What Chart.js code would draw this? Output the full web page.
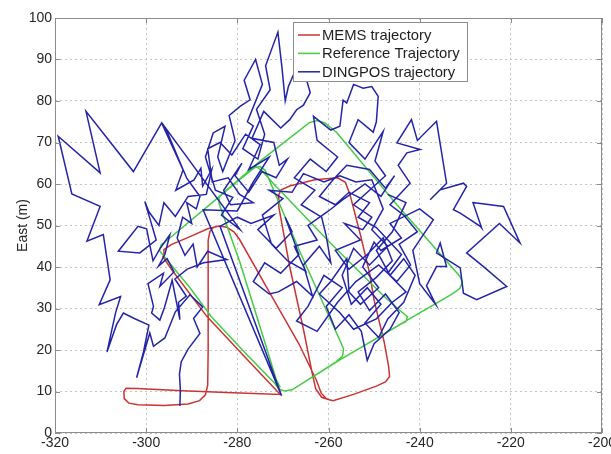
<!DOCTYPE html>
<html>
<head>
<meta charset="utf-8">
<script src="https://cdn.jsdelivr.net/npm/chart.js@4.4.1/dist/chart.umd.min.js"></script>
<style>
  html, body { margin: 0; padding: 0; background: #ffffff; }
  #wrap { width: 611px; height: 454px; }
</style>
</head>
<body>
<div id="wrap"><canvas id="chart" width="611" height="454"></canvas></div>
<script>
// Axis ticks
const xTicks = [-320, -300, -280, -260, -240, -220, -200];
const yTicks = [0, 10, 20, 30, 40, 50, 60, 70, 80, 90, 100];

// Series names
const seriesNames = ['MEMS trajectory', 'Reference Trajectory', 'DINGPOS trajectory'];

// MEMS track [x (m), east (m)]
const memsTrack = [
  [-284.0, 49.9], [-285.2, 49.6], [-286.0, 48.6], [-286.4, 46.5], [-286.4, 35.0], [-286.4, 20.0],
  [-286.5, 11.5], [-287.0, 9.2], [-288.3, 7.8], [-290.8, 7.0], [-296.0, 6.6], [-301.8, 6.8],
  [-303.8, 7.2], [-304.8, 8.3], [-304.9, 10.0], [-304.4, 10.8], [-302.0, 10.7], [-292.0, 10.2],
  [-281.0, 9.7], [-270.5, 9.3],
  [-271.2, 10.0], [-278.5, 18.5], [-286.7, 28.1], [-294.5, 39.5], [-296.3, 42.4], [-296.1, 44.2],
  [-294.5, 45.4], [-290.0, 47.5], [-286.5, 49.2], [-284.0, 49.9],
  [-282.3, 49.6], [-280.7, 48.4], [-279.6, 46.8], [-273.0, 34.0], [-266.5, 21.5], [-262.6, 12.6],
  [-261.6, 9.6], [-260.4, 8.2], [-259.0, 7.8],
  [-254.5, 9.3], [-249.5, 11.3], [-247.5, 12.3], [-246.6, 13.6], [-246.8, 16.0], [-247.8, 22.0],
  [-250.0, 32.0], [-251.0, 38.6], [-253.1, 48.2], [-255.3, 57.5], [-256.3, 60.4], [-258.0, 61.5],
  [-263.0, 61.0], [-268.5, 59.5], [-270.4, 58.6], [-271.0, 57.2], [-270.9, 54.5], [-268.5, 40.0],
  [-265.5, 25.0], [-263.5, 14.0], [-262.8, 10.6], [-261.5, 8.6], [-259.8, 8.0]
];

// Reference track [x (m), east (m)]
const referenceTrack = [
  [-271.8, 12.0], [-270.9, 10.6], [-269.6, 10.1], [-268.0, 10.4], [-257.5, 17.6], [-243.0, 27.0],
  [-233.0, 33.4], [-231.2, 34.8], [-230.6, 36.3], [-231.2, 37.8], [-245.0, 55.0], [-258.2, 72.4],
  [-260.8, 74.7], [-262.5, 75.3], [-264.2, 74.8], [-275.0, 65.5], [-285.0, 56.0], [-295.0, 46.8],
  [-296.7, 45.4], [-297.1, 44.0], [-296.4, 43.0], [-290.4, 35.0], [-285.7, 28.0], [-278.0, 19.0],
  [-271.8, 12.0], [-270.9, 10.6], [-269.6, 10.1], [-268.0, 10.4], [-257.5, 17.6], [-244.5, 26.0],
  [-243.0, 26.9], [-242.7, 28.0], [-247.2, 32.3], [-259.7, 45.9], [-272.0, 60.0], [-274.6, 63.2],
  [-276.0, 64.3], [-285.0, 56.0], [-295.0, 46.8], [-296.7, 45.4], [-297.1, 44.0], [-296.4, 43.0],
  [-290.4, 35.0], [-285.7, 28.0], [-278.0, 19.0], [-271.8, 12.0], [-270.9, 10.6], [-269.6, 10.1],
  [-268.0, 10.4], [-258.5, 17.0], [-256.9, 18.6], [-256.7, 20.3], [-257.3, 21.8], [-266.0, 43.0],
  [-273.0, 61.0], [-273.9, 63.3], [-275.0, 64.2], [-276.3, 63.9], [-283.0, 58.0], [-284.0, 56.8],
  [-284.0, 55.3], [-279.4, 41.0], [-274.0, 22.0], [-271.5, 13.0], [-270.6, 11.0]
];

// DINGPOS track [x (m), east (m)]
const dingposTrack = [
  [-292.6, 6.5], [-292.5, 10.5], [-292.7, 14.2], [-292.3, 17.2], [-290.8, 20.2], [-288.2, 24.0],
  [-289.6, 27.6], [-287.6, 30.4], [-290.4, 33.3], [-293.6, 29.2], [-295.9, 22.9], [-298.4, 20.9],
  [-299.2, 24.1], [-302.1, 13.3], [-300.6, 19.5], [-299.4, 26.0], [-302.6, 27.6], [-305.0, 28.9],
  [-306.5, 26.1], [-308.6, 19.5], [-306.7, 29.0], [-305.6, 32.9], [-310.3, 30.9], [-307.9, 36.9],
  [-309.4, 47.8], [-313.0, 46.2], [-310.1, 54.6], [-316.3, 57.6], [-319.3, 71.5], [-310.1, 62.7],
  [-313.2, 77.5], [-302.8, 63.0], [-296.6, 74.7], [-291.9, 63.4],
  [-293.5, 58.5], [-289.5, 61.0], [-288.0, 63.8], [-287.6, 59.5], [-285.6, 63.5], [-286.8, 57.5],
  [-290.8, 57.0], [-293.6, 52.2], [-296.1, 55.5], [-297.2, 50.0], [-299.4, 53.3], [-300.3, 55.8],
  [-299.0, 51.0], [-297.8, 46.5], [-301.4, 43.4], [-306.1, 43.8], [-301.8, 49.8], [-299.9, 49.2],
  [-298.5, 41.5], [-296.8, 44.7], [-294.8, 47.8], [-295.9, 43.0], [-297.3, 40.2], [-295.4, 42.0],
  [-293.9, 38.8], [-297.0, 35.3], [-296.2, 38.5], [-299.6, 36.0], [-298.4, 30.5], [-298.8, 28.9],
  [-297.0, 27.2], [-296.0, 30.2], [-294.3, 36.8], [-292.6, 27.3], [-292.9, 31.5], [-291.2, 33.0],
  [-293.7, 37.1], [-291.0, 39.5], [-287.4, 41.0], [-282.3, 41.8], [-286.5, 43.8], [-288.8, 40.0],
  [-289.7, 45.5], [-291.5, 42.8], [-293.2, 47.0], [-292.0, 52.0], [-290.0, 50.5], [-291.1, 55.5],
  [-289.0, 54.0], [-288.2, 57.0], [-291.1, 61.4], [-295.8, 73.6], [-279.4, 49.0],
  [-283.5, 52.5], [-281.0, 56.8], [-284.8, 58.5], [-287.0, 66.5], [-285.3, 72.3], [-282.7, 73.9],
  [-284.3, 66.5], [-283.2, 63.0], [-280.5, 70.5], [-281.8, 76.5], [-279.4, 78.7], [-277.2, 80.3],
  [-278.5, 85.0], [-276.0, 90.0], [-274.5, 84.0], [-277.8, 75.0], [-276.5, 74.0], [-278.8, 68.5],
  [-275.5, 66.0], [-274.0, 72.0], [-275.8, 78.0], [-272.8, 82.7], [-273.8, 88.5], [-271.1, 96.6],
  [-270.2, 88.0], [-269.5, 80.0], [-268.8, 83.5], [-267.7, 86.3], [-266.6, 85.9], [-266.0, 89.5],
  [-264.0, 82.0], [-265.5, 79.0], [-267.0, 77.9], [-268.5, 75.5], [-270.5, 73.5], [-274.2, 77.5],
  [-276.8, 71.0], [-272.0, 70.0], [-270.8, 64.5], [-269.0, 66.0], [-271.5, 61.5], [-274.6, 63.0],
  [-277.5, 58.0], [-280.5, 62.0], [-279.0, 65.0], [-283.0, 58.5], [-281.5, 55.0], [-276.5, 55.5],
  [-279.5, 57.5], [-282.0, 61.5], [-285.5, 60.5], [-286.5, 68.5], [-283.8, 70.0], [-281.2, 67.0],
  [-278.2, 72.0], [-275.0, 69.5], [-277.5, 63.5], [-273.0, 66.5], [-276.5, 60.5], [-280.0, 53.5],
  [-287.5, 53.8], [-270.3, 9.0], [-283.8, 49.8],
  [-280.0, 52.0], [-277.0, 50.5], [-272.0, 52.5], [-275.5, 49.0], [-271.5, 44.5], [-268.0, 48.5],
  [-269.5, 52.0], [-266.5, 43.0], [-270.5, 38.5], [-274.0, 41.0], [-276.5, 36.5], [-273.0, 33.5],
  [-271.0, 34.0], [-267.0, 36.5], [-263.5, 33.0], [-265.5, 40.5], [-262.0, 45.0], [-259.5, 41.0],
  [-260.5, 47.5], [-261.5, 52.0], [-266.0, 55.0], [-263.0, 58.5], [-267.5, 61.5], [-264.0, 66.0],
  [-260.5, 63.0], [-258.0, 66.5], [-262.5, 70.5], [-263.3, 76.3], [-259.5, 73.0], [-257.5, 73.9],
  [-256.8, 80.2], [-256.0, 79.5], [-254.5, 84.0], [-252.4, 83.1], [-250.5, 83.5], [-249.1, 81.1],
  [-249.5, 75.0], [-250.2, 72.5], [-253.5, 75.5], [-255.5, 70.0], [-252.0, 66.0], [-248.0, 72.7],
  [-249.8, 65.5], [-247.5, 62.0],
  [-251.0, 58.5], [-254.5, 55.0], [-250.5, 52.0], [-252.5, 49.0], [-256.5, 50.5], [-253.0, 46.5],
  [-258.5, 44.0], [-255.5, 39.5], [-251.5, 43.0], [-248.0, 47.0], [-246.0, 41.5], [-249.5, 37.5],
  [-253.5, 34.0], [-251.0, 29.5], [-247.5, 33.5], [-244.5, 29.0], [-246.5, 25.0], [-250.0, 21.5],
  [-251.5, 17.5], [-252.8, 24.5], [-255.5, 28.5], [-258.5, 25.0], [-260.5, 30.5], [-257.0, 35.0],
  [-261.0, 38.0], [-264.5, 30.5], [-267.0, 27.0], [-262.5, 24.5], [-258.0, 31.5], [-254.0, 36.5],
  [-249.0, 40.5], [-245.0, 36.5], [-242.0, 40.5], [-244.5, 45.5], [-240.5, 48.5], [-243.5, 52.5],
  [-246.5, 55.0], [-242.1, 60.2],
  [-244.7, 64.5], [-242.8, 67.5], [-239.9, 68.3], [-245.0, 69.9], [-241.8, 75.5], [-240.5, 70.5],
  [-236.3, 75.1], [-234.1, 60.2], [-237.7, 56.2], [-235.5, 58.6], [-230.4, 60.2], [-229.7, 59.4],
  [-232.6, 53.8], [-231.1, 53.0], [-226.7, 49.8], [-226.4, 49.4], [-228.3, 55.5], [-227.5, 55.4],
  [-221.6, 54.6], [-218.0, 45.8], [-222.5, 50.5], [-229.7, 43.4], [-226.0, 40.1], [-220.9, 35.3],
  [-227.5, 32.1], [-230.4, 33.7], [-231.1, 39.8], [-236.3, 43.4], [-235.5, 45.8], [-234.1, 40.1],
  [-236.3, 40.1], [-238.5, 35.5], [-236.5, 31.0], [-240.0, 36.0], [-241.5, 44.0], [-237.0, 51.4],
  [-240.0, 54.0],
  [-246.5, 50.5], [-244.0, 47.0], [-248.5, 44.0], [-250.0, 46.0], [-252.5, 40.0], [-249.0, 35.0],
  [-253.0, 31.0], [-255.5, 34.0], [-256.0, 42.0], [-259.5, 36.5], [-262.0, 33.5], [-257.5, 29.0],
  [-254.5, 25.0], [-249.5, 27.5], [-246.0, 31.5], [-243.0, 34.0], [-247.0, 38.5], [-244.0, 43.0],
  [-249.5, 49.5], [-253.5, 52.0], [-251.0, 55.5], [-255.5, 58.0], [-258.5, 55.0], [-262.0, 57.0],
  [-259.0, 61.0], [-256.0, 64.5], [-251.0, 63.5], [-247.5, 59.0], [-245.5, 62.0], [-248.5, 57.0],
  [-252.0, 60.0],
  [-256.5, 56.5], [-260.0, 53.5], [-264.5, 50.0], [-262.5, 46.5], [-267.5, 45.0], [-265.0, 39.0],
  [-269.0, 41.5], [-272.5, 45.5], [-274.5, 52.5], [-270.0, 56.5], [-273.0, 58.5], [-268.0, 58.0],
  [-265.5, 62.5], [-261.0, 60.5], [-257.5, 62.0], [-254.0, 60.5], [-250.5, 61.0],
  [-248.0, 54.0], [-250.5, 49.0], [-247.0, 45.0], [-251.0, 40.5], [-254.5, 44.5], [-257.0, 38.0],
  [-255.0, 31.0], [-251.5, 35.0], [-248.5, 31.0], [-252.0, 26.5], [-249.0, 23.0], [-247.0, 27.5],
  [-243.5, 31.5], [-241.0, 38.0], [-243.5, 42.0], [-246.5, 38.0], [-249.5, 44.0], [-246.0, 48.5],
  [-243.0, 55.5], [-247.0, 57.5]
];

const palette = { mems: '#cc3333', reference: '#44cc44', dingpos: '#2424a8' };
const fontFamily = '"Liberation Sans", Arial, Helvetica, sans-serif';

const toPoints = track => track.map(([x, y]) => ({ x, y }));

// Box around the axes, inward tick marks, and the boxed legend
const framePlugin = {
  id: 'frame',
  afterDatasetsDraw(chart) {
    const { ctx, chartArea: a, scales } = chart;
    ctx.save();
    ctx.strokeStyle = '#8c8c8c';
    ctx.lineWidth = 1;
    ctx.strokeRect(a.left + 0.5, a.top + 0.5, a.right - a.left - 1, a.bottom - a.top - 1);
    ctx.beginPath();
    xTicks.forEach(v => {
      const px = Math.round(scales.x.getPixelForValue(v)) + 0.5;
      ctx.moveTo(px, a.bottom); ctx.lineTo(px, a.bottom - 5);
      ctx.moveTo(px, a.top); ctx.lineTo(px, a.top + 5);
    });
    yTicks.forEach(v => {
      const py = Math.round(scales.y.getPixelForValue(v)) + 0.5;
      ctx.moveTo(a.left, py); ctx.lineTo(a.left + 5, py);
      ctx.moveTo(a.right, py); ctx.lineTo(a.right - 5, py);
    });
    ctx.stroke();

    // legend
    const bx = 293.5, by = 22.5, bw = 174, bh = 59;
    ctx.fillStyle = '#ffffff';
    ctx.fillRect(bx, by, bw, bh);
    ctx.strokeStyle = '#8c8c8c';
    ctx.strokeRect(bx, by, bw, bh);
    ctx.font = '14.8px ' + fontFamily;
    ctx.textBaseline = 'middle';
    ctx.textAlign = 'left';
    chart.data.datasets.forEach((ds, i) => {
      const cy = 35 + i * 18.4;
      ctx.strokeStyle = ds.borderColor;
      ctx.lineWidth = 1.5;
      ctx.beginPath();
      ctx.moveTo(298, cy); ctx.lineTo(320, cy);
      ctx.stroke();
      ctx.fillStyle = '#1e1e1e';
      ctx.fillText(ds.label, 322, cy + 1);
    });
    ctx.restore();
  }
};

new Chart(document.getElementById('chart'), {
  type: 'scatter',
  data: {
    datasets: [
      { label: seriesNames[0], data: toPoints(memsTrack), borderColor: palette.mems, order: 3 },
      { label: seriesNames[1], data: toPoints(referenceTrack), borderColor: palette.reference, order: 2 },
      { label: seriesNames[2], data: toPoints(dingposTrack), borderColor: palette.dingpos, order: 1 }
    ].map(d => Object.assign(d, {
      showLine: true, fill: false, tension: 0, borderWidth: 1.5,
      pointRadius: 0, pointHoverRadius: 0, backgroundColor: d.borderColor
    }))
  },
  options: {
    responsive: false,
    animation: false,
    devicePixelRatio: 1,
    events: [],
    layout: { padding: { left: 0, right: 9, top: 18, bottom: 0 } },
    plugins: { legend: { display: false }, tooltip: { enabled: false } },
    scales: {
      x: {
        type: 'linear', min: -320, max: -200,
        afterBuildTicks(s) { s.ticks = xTicks.map(value => ({ value })); },
        afterFit(s) { s.height = 21; s.paddingLeft = 0; s.paddingRight = 0; },
        ticks: { color: '#262626', font: { family: fontFamily, size: 14 }, padding: 2, maxRotation: 0, autoSkip: false },
        grid: { color: '#c4c4c4', lineWidth: 1, drawTicks: false },
        border: { display: false, dash: [2, 3] }
      },
      y: {
        type: 'linear', min: 0, max: 100,
        afterBuildTicks(s) { s.ticks = yTicks.map(value => ({ value })); },
        afterFit(s) { s.width = 55; s.paddingTop = 0; s.paddingBottom = 0; },
        ticks: { color: '#262626', font: { family: fontFamily, size: 14 }, padding: 3, autoSkip: false },
        grid: { color: '#c4c4c4', lineWidth: 1, drawTicks: false },
        border: { display: false, dash: [2, 3] },
        title: { display: true, text: 'East (m)', color: '#262626', font: { family: fontFamily, size: 14 }, padding: { top: 15, bottom: 0 } }
      }
    }
  },
  plugins: [framePlugin]
});
</script>
</body>
</html>
